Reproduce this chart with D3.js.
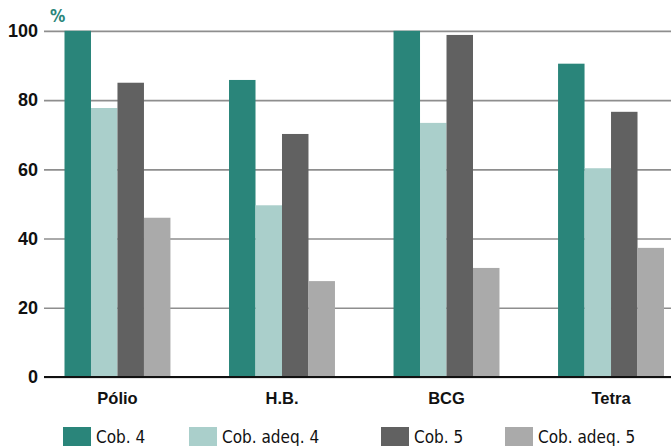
<!DOCTYPE html>
<html>
<head>
<meta charset="utf-8">
<script src="https://cdn.jsdelivr.net/npm/d3@7"></script>
<style>
  html, body { margin: 0; padding: 0; background: #fff; }
  svg { display: block; font-family: "Liberation Sans Narrow", "DejaVu Sans Condensed", "Arial Narrow", sans-serif; }
</style>
</head>
<body>
<svg id="chart" width="671" height="446"></svg>
<script>
const categories = ["Pólio", "H.B.", "BCG", "Tetra"];
const seriesNames = ["Cob. 4", "Cob. adeq. 4", "Cob. 5", "Cob. adeq. 5"];
const cob4 = [100, 85.8, 100, 90.5];
const cobAdeq4 = [77.7, 49.6, 73.4, 60.3];
const cob5 = [85.0, 70.2, 98.8, 76.6];
const cobAdeq5 = [46.0, 27.7, 31.5, 37.3];
const yTicks = [0, 20, 40, 60, 80, 100];
const unitLabel = "%";
const colors = ["#2a857a", "#aacfcb", "#616161", "#aaaaaa"];

(function () {
const seriesValues = [cob4, cobAdeq4, cob5, cobAdeq5];

const svg = d3.select("#chart");
const mLeft = 44, mRight = 671, mTop = 30.8, mBottom = 377;

const y = d3.scaleLinear().domain([0, 100]).range([mBottom, mTop]);
const x = d3.scaleBand().domain(categories).range([64.5, 664]).paddingInner(0.356).paddingOuter(0);
const xs = d3.scaleBand().domain(seriesNames).range([0, x.bandwidth()]).padding(0);
const color = d3.scaleOrdinal().domain(seriesNames).range(colors);

// y axis with gridlines
const yAxis = svg.append("g")
  .attr("transform", `translate(${mLeft},0)`)
  .call(d3.axisLeft(y).tickValues(yTicks).tickSize(-(mRight - mLeft)).tickPadding(6).tickFormat(d3.format("d")));
yAxis.select(".domain").remove();
yAxis.selectAll(".tick line").attr("stroke", "#8e8e8e").attr("stroke-width", 1.7);
yAxis.selectAll(".tick text")
  .attr("fill", "#111")
  .style("font-size", "18px")
  .style("font-weight", "bold");

// bars
const data = [];
categories.forEach((c, i) => {
  seriesNames.forEach((s, j) => {
    data.push({ cat: c, series: s, value: seriesValues[j][i] });
  });
});
svg.append("g").selectAll("rect")
  .data(data)
  .join("rect")
  .attr("x", d => x(d.cat) + xs(d.series))
  .attr("width", xs.bandwidth())
  .attr("y", d => y(d.value))
  .attr("height", d => y(0) - y(d.value))
  .attr("fill", d => color(d.series));

// zero baseline
svg.append("line")
  .attr("x1", mLeft).attr("x2", mRight)
  .attr("y1", y(0)).attr("y2", y(0))
  .attr("stroke", "#111").attr("stroke-width", 2);

// category axis
const xAxis = svg.append("g")
  .attr("transform", `translate(0,${y(0)})`)
  .call(d3.axisBottom(x).tickSize(0));
xAxis.select(".domain").remove();
xAxis.selectAll(".tick text")
  .attr("y", 27).attr("dy", 0)
  .attr("fill", "#111")
  .style("font-size", "16.5px")
  .style("font-weight", "bold");

// unit label
svg.append("text")
  .attr("x", 50).attr("y", 22)
  .attr("fill", "#2a857a")
  .style("font-size", "17px")
  .style("font-weight", "bold")
  .text(unitLabel);

// legend
const legendX = d3.scaleOrdinal().domain(seriesNames).range([63, 189, 381, 505]);
const lg = svg.append("g").selectAll("g")
  .data(seriesNames)
  .join("g")
  .attr("transform", d => `translate(${legendX(d)},427)`);
lg.append("rect").attr("width", 28).attr("height", 20).attr("fill", d => color(d));
lg.append("text")
  .attr("x", 33).attr("y", 15.5)
  .attr("fill", "#111")
  .style("font-size", "17px")
  .text(d => d);
})();
</script>
</body>
</html>
